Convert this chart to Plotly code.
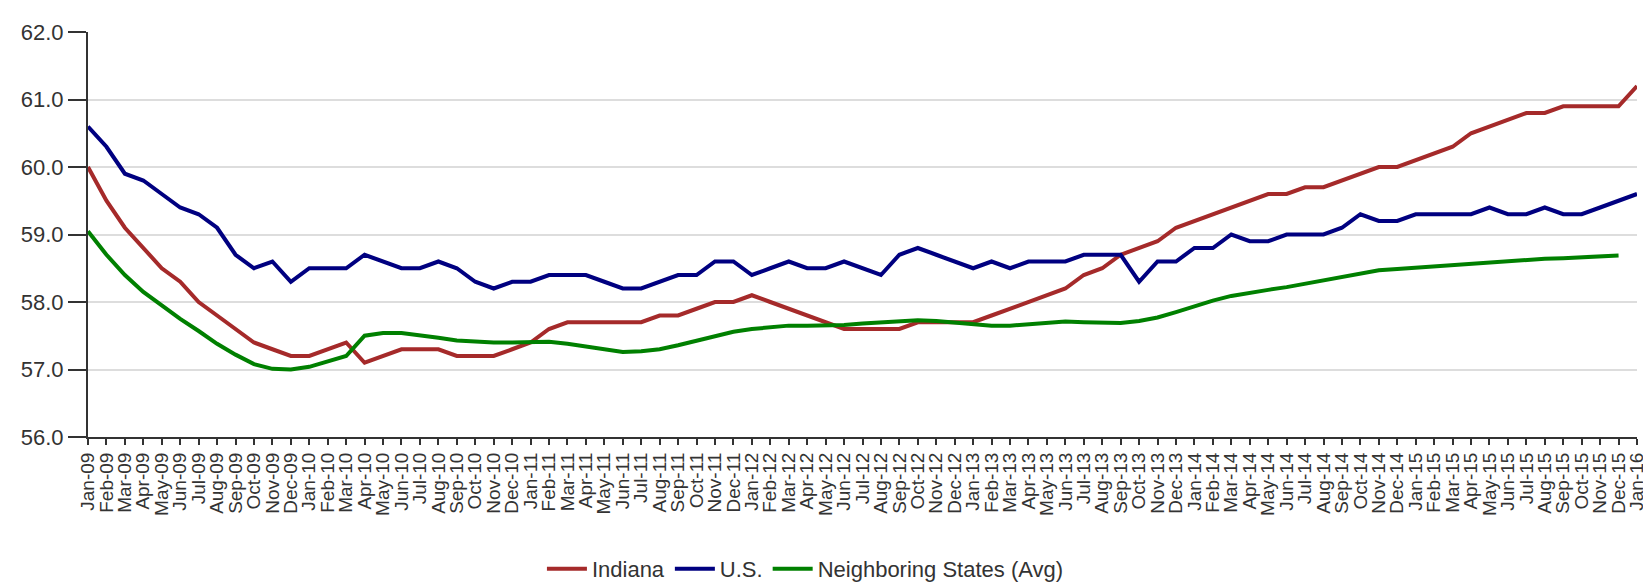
import plotly.graph_objects as go

# Monthly labels Jan-09 .. Jan-16
month_names = ["Jan", "Feb", "Mar", "Apr", "May", "Jun",
               "Jul", "Aug", "Sep", "Oct", "Nov", "Dec"]
months = [f"{m}-{y:02d}" for y in range(9, 16) for m in month_names] + ["Jan-16"]

indiana = [
    60.0, 59.5, 59.1, 58.8, 58.5, 58.3, 58.0, 57.8, 57.6, 57.4, 57.3, 57.2,
    57.2, 57.3, 57.4, 57.1, 57.2, 57.3, 57.3, 57.3, 57.2, 57.2, 57.2, 57.3,
    57.4, 57.6, 57.7, 57.7, 57.7, 57.7, 57.7, 57.8, 57.8, 57.9, 58.0, 58.0,
    58.1, 58.0, 57.9, 57.8, 57.7, 57.6, 57.6, 57.6, 57.6, 57.7, 57.7, 57.7,
    57.7, 57.8, 57.9, 58.0, 58.1, 58.2, 58.4, 58.5, 58.7, 58.8, 58.9, 59.1,
    59.2, 59.3, 59.4, 59.5, 59.6, 59.6, 59.7, 59.7, 59.8, 59.9, 60.0, 60.0,
    60.1, 60.2, 60.3, 60.5, 60.6, 60.7, 60.8, 60.8, 60.9, 60.9, 60.9, 60.9,
    61.2,
]

us = [
    60.6, 60.3, 59.9, 59.8, 59.6, 59.4, 59.3, 59.1, 58.7, 58.5, 58.6, 58.3,
    58.5, 58.5, 58.5, 58.7, 58.6, 58.5, 58.5, 58.6, 58.5, 58.3, 58.2, 58.3,
    58.3, 58.4, 58.4, 58.4, 58.3, 58.2, 58.2, 58.3, 58.4, 58.4, 58.6, 58.6,
    58.4, 58.5, 58.6, 58.5, 58.5, 58.6, 58.5, 58.4, 58.7, 58.8, 58.7, 58.6,
    58.5, 58.6, 58.5, 58.6, 58.6, 58.6, 58.7, 58.7, 58.7, 58.3, 58.6, 58.6,
    58.8, 58.8, 59.0, 58.9, 58.9, 59.0, 59.0, 59.0, 59.1, 59.3, 59.2, 59.2,
    59.3, 59.3, 59.3, 59.3, 59.4, 59.3, 59.3, 59.4, 59.3, 59.3, 59.4, 59.5,
    59.6,
]

neighbors = [
    59.05, 58.70, 58.40, 58.15, 57.95, 57.75, 57.57, 57.38, 57.22, 57.08, 57.01, 57.00,
    57.04, 57.12, 57.20, 57.50, 57.54, 57.54, 57.51, 57.47, 57.43, 57.41, 57.40, 57.40,
    57.40, 57.41, 57.38, 57.34, 57.29, 57.26, 57.27, 57.30, 57.36, 57.43, 57.50, 57.56,
    57.60, 57.63, 57.65, 57.65, 57.65, 57.66, 57.68, 57.70, 57.72, 57.73, 57.72, 57.70,
    57.67, 57.65, 57.65, 57.67, 57.70, 57.71, 57.70, 57.69, 57.69, 57.72, 57.77, 57.85,
    57.94, 58.02, 58.09, 58.14, 58.18, 58.22, 58.27, 58.32, 58.38, 58.43, 58.47, 58.49,
    58.51, 58.53, 58.55, 58.57, 58.59, 58.61, 58.63, 58.64, 58.65, 58.66, 58.67, 58.69,
    None,
]

font_family = "Liberation Sans, Arial, sans-serif"

fig = go.Figure()
fig.add_trace(go.Scatter(x=months, y=indiana, name="Indiana", mode="lines",
                         line=dict(color="#A52A2A", width=4)))
fig.add_trace(go.Scatter(x=months, y=us, name="U.S.", mode="lines",
                         line=dict(color="#000080", width=4)))
fig.add_trace(go.Scatter(x=months, y=neighbors, name="Neighboring States (Avg)", mode="lines",
                         line=dict(color="#008000", width=4)))

fig.update_layout(
    width=1651, height=582,
    margin=dict(l=80, r=14, t=16, b=153),
    plot_bgcolor="white", paper_bgcolor="white",
    font=dict(family=font_family, size=20, color="#333333"),
    showlegend=True,
    legend=dict(orientation="h", xref="container", yref="container",
                x=0.483, xanchor="center", y=0.0, yanchor="bottom",
                font=dict(size=22, color="#333333"), itemwidth=40),
)

fig.update_xaxes(
    type="category", range=[0, len(months) - 1],
    tickmode="array", tickvals=months, ticktext=months,
    tickangle=-90, tickfont=dict(size=19, color="#333333"),
    ticks="outside", ticklen=6, tickcolor="#333333", tickwidth=1.5,
    showline=True, linecolor="#333333", linewidth=2,
    showgrid=False, zeroline=False,
)
fig.update_yaxes(
    range=[56, 62], dtick=1, tickformat=".1f",
    tickfont=dict(size=22, color="#333333"),
    ticks="outside", ticklen=18, tickcolor="#333333", tickwidth=1.5,
    showline=True, linecolor="#333333", linewidth=2,
    showgrid=True, gridcolor="#DDDDDD", gridwidth=1.5, zeroline=False,
)

fig.write_html("out.html")
